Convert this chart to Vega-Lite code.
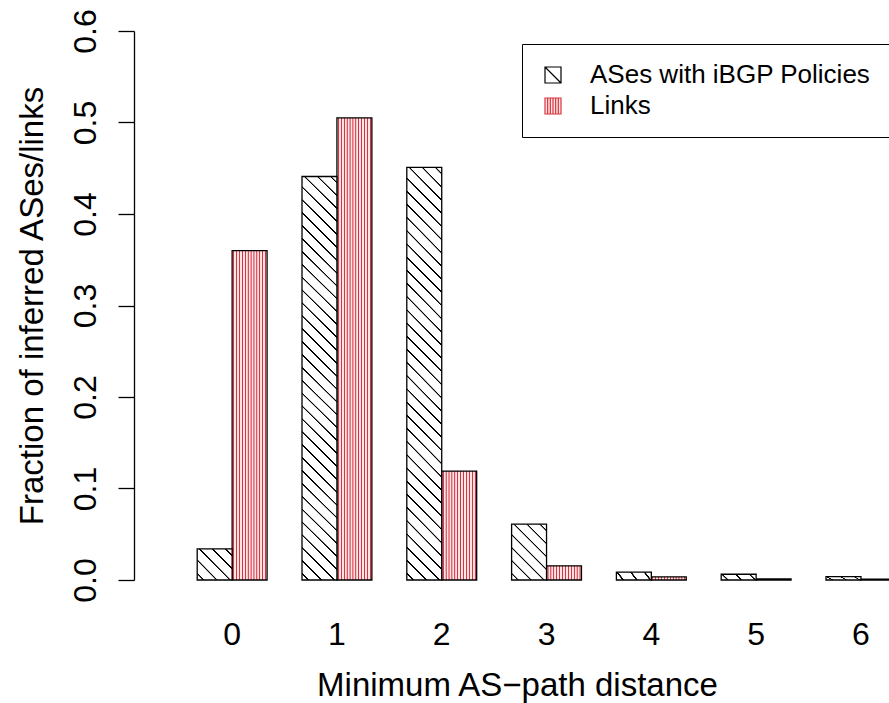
{
  "$schema": "https://vega.github.io/schema/vega-lite/v6.json",
  "width": 755,
  "height": 549,
  "autosize": {"type": "none"},
  "padding": {"left": 134, "top": 31, "right": 0, "bottom": 123},
  "background": "white",
  "config": {"view": {"stroke": null}, "font": "Liberation Sans"},
  "data": {
    "values": [
      {"distance": "0", "series": "ASes with iBGP Policies", "fraction": 0.034},
      {"distance": "1", "series": "ASes with iBGP Policies", "fraction": 0.441},
      {"distance": "2", "series": "ASes with iBGP Policies", "fraction": 0.451},
      {"distance": "3", "series": "ASes with iBGP Policies", "fraction": 0.061},
      {"distance": "4", "series": "ASes with iBGP Policies", "fraction": 0.0085},
      {"distance": "5", "series": "ASes with iBGP Policies", "fraction": 0.0063},
      {"distance": "6", "series": "ASes with iBGP Policies", "fraction": 0.0036},
      {"distance": "0", "series": "Links", "fraction": 0.36},
      {"distance": "1", "series": "Links", "fraction": 0.505},
      {"distance": "2", "series": "Links", "fraction": 0.119},
      {"distance": "3", "series": "Links", "fraction": 0.0155},
      {"distance": "4", "series": "Links", "fraction": 0.0035},
      {"distance": "5", "series": "Links", "fraction": 0.0012},
      {"distance": "6", "series": "Links", "fraction": 0.0008}
    ]
  },
  "encoding": {
    "x": {
      "field": "distance", "type": "ordinal",
      "scale": {"range": [63.2, 761.87], "paddingInner": 0.3333, "paddingOuter": 0},
      "axis": {
        "title": "Minimum AS\u2212path distance",
        "domain": false, "ticks": false, "tickSize": 0,
        "labelAngle": 0, "labelFontSize": 32, "labelColor": "black",
        "labelBaseline": "alphabetic", "labelPadding": 64,
        "titleFontSize": 33, "titleFontWeight": "normal", "titleColor": "black",
        "titleBaseline": "alphabetic", "titleAlign": "center", "titleY": 115, "titleX": 383
      }
    },
    "xOffset": {
      "field": "series", "type": "nominal",
      "scale": {"domain": ["ASes with iBGP Policies", "Links"], "paddingInner": 0, "paddingOuter": 0}
    },
    "y": {
      "field": "fraction", "type": "quantitative", "stack": null,
      "scale": {"domain": [0, 0.6], "nice": false},
      "axis": {
        "values": [0, 0.1, 0.2, 0.3, 0.4, 0.5, 0.6], "format": ".1f",
        "grid": false, "domainColor": "black", "domainWidth": 1.3,
        "tickColor": "black", "tickWidth": 1.3, "tickSize": 16,
        "labelAngle": -90, "labelAlign": "center", "labelBaseline": "alphabetic",
        "labelPadding": 23, "labelFontSize": 32, "labelColor": "black",
        "title": "Fraction of inferred ASes/links",
        "titleFontSize": 33, "titleFontWeight": "normal", "titleColor": "black",
        "titleAngle": -90, "titleAlign": "center", "titleBaseline": "alphabetic",
        "titleX": -92, "titleY": 274.5
      }
    }
  },
  "layer": [
    {
      "transform": [{"filter": {"field": "series", "equal": "Links"}}],
      "mark": {"type": "bar", "stroke": "black", "strokeWidth": 1.3,
        "fill": {"gradient": "linear", "x1": 0, "y1": 0, "x2": 1, "y2": 0, "stops": [
          {"offset": 0, "color": "#fbe4e6"},
          {"offset": 0.0208, "color": "#fbe4e6"}, {"offset": 0.0333, "color": "#d8343f"}, {"offset": 0.05, "color": "#d8343f"}, {"offset": 0.0625, "color": "#fbe4e6"},
          {"offset": 0.1042, "color": "#fbe4e6"}, {"offset": 0.1167, "color": "#d8343f"}, {"offset": 0.1333, "color": "#d8343f"}, {"offset": 0.1458, "color": "#fbe4e6"},
          {"offset": 0.1875, "color": "#fbe4e6"}, {"offset": 0.2, "color": "#d8343f"}, {"offset": 0.2167, "color": "#d8343f"}, {"offset": 0.2292, "color": "#fbe4e6"},
          {"offset": 0.2708, "color": "#fbe4e6"}, {"offset": 0.2833, "color": "#d8343f"}, {"offset": 0.3, "color": "#d8343f"}, {"offset": 0.3125, "color": "#fbe4e6"},
          {"offset": 0.3542, "color": "#fbe4e6"}, {"offset": 0.3667, "color": "#d8343f"}, {"offset": 0.3833, "color": "#d8343f"}, {"offset": 0.3958, "color": "#fbe4e6"},
          {"offset": 0.4375, "color": "#fbe4e6"}, {"offset": 0.45, "color": "#d8343f"}, {"offset": 0.4667, "color": "#d8343f"}, {"offset": 0.4792, "color": "#fbe4e6"},
          {"offset": 0.5208, "color": "#fbe4e6"}, {"offset": 0.5333, "color": "#d8343f"}, {"offset": 0.55, "color": "#d8343f"}, {"offset": 0.5625, "color": "#fbe4e6"},
          {"offset": 0.6042, "color": "#fbe4e6"}, {"offset": 0.6167, "color": "#d8343f"}, {"offset": 0.6333, "color": "#d8343f"}, {"offset": 0.6458, "color": "#fbe4e6"},
          {"offset": 0.6875, "color": "#fbe4e6"}, {"offset": 0.7, "color": "#d8343f"}, {"offset": 0.7167, "color": "#d8343f"}, {"offset": 0.7292, "color": "#fbe4e6"},
          {"offset": 0.7708, "color": "#fbe4e6"}, {"offset": 0.7833, "color": "#d8343f"}, {"offset": 0.8, "color": "#d8343f"}, {"offset": 0.8125, "color": "#fbe4e6"},
          {"offset": 0.8542, "color": "#fbe4e6"}, {"offset": 0.8667, "color": "#d8343f"}, {"offset": 0.8833, "color": "#d8343f"}, {"offset": 0.8958, "color": "#fbe4e6"},
          {"offset": 0.9375, "color": "#fbe4e6"}, {"offset": 0.95, "color": "#d8343f"}, {"offset": 0.9667, "color": "#d8343f"}, {"offset": 0.9792, "color": "#fbe4e6"},
          {"offset": 1, "color": "#fbe4e6"}]}
      }
    },
    {
      "transform": [{"filter": {"and": [{"field": "series", "equal": "ASes with iBGP Policies"}, {"field": "distance", "oneOf": ["1", "2"]}]}}],
      "mark": {"type": "bar", "stroke": "black", "strokeWidth": 1.3,
        "fill": {"gradient": "linear", "x1": 0, "y1": 1, "x2": 0.0923, "y2": -0.078, "stops": [
          {"offset": 0, "color": "white"},
          {"offset": 0.0122, "color": "white"}, {"offset": 0.0132, "color": "black"}, {"offset": 0.0162, "color": "black"}, {"offset": 0.0172, "color": "white"},
          {"offset": 0.0416, "color": "white"}, {"offset": 0.0426, "color": "black"}, {"offset": 0.0456, "color": "black"}, {"offset": 0.0466, "color": "white"},
          {"offset": 0.0710, "color": "white"}, {"offset": 0.0720, "color": "black"}, {"offset": 0.0750, "color": "black"}, {"offset": 0.0760, "color": "white"},
          {"offset": 0.1004, "color": "white"}, {"offset": 0.1014, "color": "black"}, {"offset": 0.1044, "color": "black"}, {"offset": 0.1054, "color": "white"},
          {"offset": 0.1298, "color": "white"}, {"offset": 0.1308, "color": "black"}, {"offset": 0.1338, "color": "black"}, {"offset": 0.1348, "color": "white"},
          {"offset": 0.1593, "color": "white"}, {"offset": 0.1603, "color": "black"}, {"offset": 0.1633, "color": "black"}, {"offset": 0.1643, "color": "white"},
          {"offset": 0.1887, "color": "white"}, {"offset": 0.1897, "color": "black"}, {"offset": 0.1927, "color": "black"}, {"offset": 0.1937, "color": "white"},
          {"offset": 0.2181, "color": "white"}, {"offset": 0.2191, "color": "black"}, {"offset": 0.2221, "color": "black"}, {"offset": 0.2231, "color": "white"},
          {"offset": 0.2475, "color": "white"}, {"offset": 0.2485, "color": "black"}, {"offset": 0.2515, "color": "black"}, {"offset": 0.2525, "color": "white"},
          {"offset": 0.2769, "color": "white"}, {"offset": 0.2779, "color": "black"}, {"offset": 0.2809, "color": "black"}, {"offset": 0.2819, "color": "white"},
          {"offset": 0.3063, "color": "white"}, {"offset": 0.3073, "color": "black"}, {"offset": 0.3103, "color": "black"}, {"offset": 0.3113, "color": "white"},
          {"offset": 0.3357, "color": "white"}, {"offset": 0.3367, "color": "black"}, {"offset": 0.3397, "color": "black"}, {"offset": 0.3407, "color": "white"},
          {"offset": 0.3651, "color": "white"}, {"offset": 0.3661, "color": "black"}, {"offset": 0.3691, "color": "black"}, {"offset": 0.3701, "color": "white"},
          {"offset": 0.3946, "color": "white"}, {"offset": 0.3956, "color": "black"}, {"offset": 0.3986, "color": "black"}, {"offset": 0.3996, "color": "white"},
          {"offset": 0.4240, "color": "white"}, {"offset": 0.4250, "color": "black"}, {"offset": 0.4280, "color": "black"}, {"offset": 0.4290, "color": "white"},
          {"offset": 0.4534, "color": "white"}, {"offset": 0.4544, "color": "black"}, {"offset": 0.4574, "color": "black"}, {"offset": 0.4584, "color": "white"},
          {"offset": 0.4828, "color": "white"}, {"offset": 0.4838, "color": "black"}, {"offset": 0.4868, "color": "black"}, {"offset": 0.4878, "color": "white"},
          {"offset": 0.5122, "color": "white"}, {"offset": 0.5132, "color": "black"}, {"offset": 0.5162, "color": "black"}, {"offset": 0.5172, "color": "white"},
          {"offset": 0.5416, "color": "white"}, {"offset": 0.5426, "color": "black"}, {"offset": 0.5456, "color": "black"}, {"offset": 0.5466, "color": "white"},
          {"offset": 0.5710, "color": "white"}, {"offset": 0.5720, "color": "black"}, {"offset": 0.5750, "color": "black"}, {"offset": 0.5760, "color": "white"},
          {"offset": 0.6004, "color": "white"}, {"offset": 0.6014, "color": "black"}, {"offset": 0.6044, "color": "black"}, {"offset": 0.6054, "color": "white"},
          {"offset": 0.6298, "color": "white"}, {"offset": 0.6308, "color": "black"}, {"offset": 0.6338, "color": "black"}, {"offset": 0.6348, "color": "white"},
          {"offset": 0.6593, "color": "white"}, {"offset": 0.6603, "color": "black"}, {"offset": 0.6633, "color": "black"}, {"offset": 0.6643, "color": "white"},
          {"offset": 0.6887, "color": "white"}, {"offset": 0.6897, "color": "black"}, {"offset": 0.6927, "color": "black"}, {"offset": 0.6937, "color": "white"},
          {"offset": 0.7181, "color": "white"}, {"offset": 0.7191, "color": "black"}, {"offset": 0.7221, "color": "black"}, {"offset": 0.7231, "color": "white"},
          {"offset": 0.7475, "color": "white"}, {"offset": 0.7485, "color": "black"}, {"offset": 0.7515, "color": "black"}, {"offset": 0.7525, "color": "white"},
          {"offset": 0.7769, "color": "white"}, {"offset": 0.7779, "color": "black"}, {"offset": 0.7809, "color": "black"}, {"offset": 0.7819, "color": "white"},
          {"offset": 0.8063, "color": "white"}, {"offset": 0.8073, "color": "black"}, {"offset": 0.8103, "color": "black"}, {"offset": 0.8113, "color": "white"},
          {"offset": 0.8357, "color": "white"}, {"offset": 0.8367, "color": "black"}, {"offset": 0.8397, "color": "black"}, {"offset": 0.8407, "color": "white"},
          {"offset": 0.8651, "color": "white"}, {"offset": 0.8661, "color": "black"}, {"offset": 0.8691, "color": "black"}, {"offset": 0.8701, "color": "white"},
          {"offset": 0.8946, "color": "white"}, {"offset": 0.8956, "color": "black"}, {"offset": 0.8986, "color": "black"}, {"offset": 0.8996, "color": "white"},
          {"offset": 0.9240, "color": "white"}, {"offset": 0.9250, "color": "black"}, {"offset": 0.9280, "color": "black"}, {"offset": 0.9290, "color": "white"},
          {"offset": 0.9534, "color": "white"}, {"offset": 0.9544, "color": "black"}, {"offset": 0.9574, "color": "black"}, {"offset": 0.9584, "color": "white"},
          {"offset": 0.9828, "color": "white"}, {"offset": 0.9838, "color": "black"}, {"offset": 0.9868, "color": "black"}, {"offset": 0.9878, "color": "white"},
          {"offset": 1, "color": "white"}]}
      }
    },
    {
      "transform": [{"filter": {"and": [{"field": "series", "equal": "ASes with iBGP Policies"}, {"field": "distance", "equal": "0"}]}}],
      "mark": {"type": "bar", "stroke": "black", "strokeWidth": 1.3,
        "fill": {"gradient": "linear", "x1": 0, "y1": 1, "x2": 1.0586, "y2": 0.0665, "stops": [
          {"offset": 0, "color": "white"},
          {"offset": 0.083, "color": "white"}, {"offset": 0.09, "color": "black"}, {"offset": 0.11, "color": "black"}, {"offset": 0.117, "color": "white"},
          {"offset": 0.283, "color": "white"}, {"offset": 0.29, "color": "black"}, {"offset": 0.31, "color": "black"}, {"offset": 0.317, "color": "white"},
          {"offset": 0.483, "color": "white"}, {"offset": 0.49, "color": "black"}, {"offset": 0.51, "color": "black"}, {"offset": 0.517, "color": "white"},
          {"offset": 0.683, "color": "white"}, {"offset": 0.69, "color": "black"}, {"offset": 0.71, "color": "black"}, {"offset": 0.717, "color": "white"},
          {"offset": 0.883, "color": "white"}, {"offset": 0.89, "color": "black"}, {"offset": 0.91, "color": "black"}, {"offset": 0.917, "color": "white"},
          {"offset": 1, "color": "white"}]}
      }
    },
    {
      "transform": [{"filter": {"and": [{"field": "series", "equal": "ASes with iBGP Policies"}, {"field": "distance", "equal": "3"}]}}],
      "mark": {"type": "bar", "stroke": "black", "strokeWidth": 1.3,
        "fill": {"gradient": "linear", "x1": 0, "y1": 1, "x2": 0.7313, "y2": -0.1682, "stops": [
          {"offset": 0, "color": "white"},
          {"offset": 0.0593, "color": "white"}, {"offset": 0.0643, "color": "black"}, {"offset": 0.0786, "color": "black"}, {"offset": 0.0836, "color": "white"},
          {"offset": 0.2022, "color": "white"}, {"offset": 0.2072, "color": "black"}, {"offset": 0.2215, "color": "black"}, {"offset": 0.2265, "color": "white"},
          {"offset": 0.3450, "color": "white"}, {"offset": 0.3500, "color": "black"}, {"offset": 0.3643, "color": "black"}, {"offset": 0.3693, "color": "white"},
          {"offset": 0.4879, "color": "white"}, {"offset": 0.4929, "color": "black"}, {"offset": 0.5072, "color": "black"}, {"offset": 0.5122, "color": "white"},
          {"offset": 0.6307, "color": "white"}, {"offset": 0.6357, "color": "black"}, {"offset": 0.6500, "color": "black"}, {"offset": 0.6550, "color": "white"},
          {"offset": 0.7736, "color": "white"}, {"offset": 0.7786, "color": "black"}, {"offset": 0.7929, "color": "black"}, {"offset": 0.7979, "color": "white"},
          {"offset": 0.9164, "color": "white"}, {"offset": 0.9214, "color": "black"}, {"offset": 0.9357, "color": "black"}, {"offset": 0.9407, "color": "white"},
          {"offset": 1, "color": "white"}]}
      }
    },
    {
      "transform": [{"filter": {"and": [{"field": "series", "equal": "ASes with iBGP Policies"}, {"field": "distance", "oneOf": ["4", "5", "6"]}]}}],
      "mark": {"type": "bar", "stroke": "black", "strokeWidth": 1.3,
        "fill": {"gradient": "linear", "x1": 0, "y1": 1, "x2": 1.1382, "y2": 0.8045, "stops": [
          {"offset": 0, "color": "white"},
          {"offset": 0.1383, "color": "white"}, {"offset": 0.15, "color": "black"}, {"offset": 0.1833, "color": "black"}, {"offset": 0.195, "color": "white"},
          {"offset": 0.4717, "color": "white"}, {"offset": 0.4833, "color": "black"}, {"offset": 0.5167, "color": "black"}, {"offset": 0.5283, "color": "white"},
          {"offset": 0.805, "color": "white"}, {"offset": 0.8167, "color": "black"}, {"offset": 0.85, "color": "black"}, {"offset": 0.8617, "color": "white"},
          {"offset": 1, "color": "white"}]}
      }
    },
    {
      "mark": {"type": "point", "opacity": 0, "filled": true, "strokeWidth": 1.2},
      "encoding": {
        "shape": {
          "field": "series", "type": "nominal",
          "scale": {
            "domain": ["ASes with iBGP Policies", "Links"],
            "range": [
              "M-1,-1H1V1H-1Z M-1,-1L1,1",
              "M-1,-1H1V1H-1Z M-0.667,-1V1 M-0.333,-1V1 M0,-1V1 M0.333,-1V1 M0.667,-1V1"
            ]
          },
          "legend": {
            "orient": "none", "legendX": 388, "legendY": 13, "title": null,
            "strokeColor": "black", "fillColor": "white", "padding": 18,
            "symbolSize": 256, "symbolStrokeWidth": 1.2, "symbolOpacity": 1,
            "labelFontSize": 26, "labelOffset": 24, "rowPadding": 5,
            "labelColor": "black", "labelLimit": 400
          }
        },
        "stroke": {
          "field": "series", "type": "nominal",
          "scale": {"domain": ["ASes with iBGP Policies", "Links"], "range": ["black", "#d8343f"]}
        },
        "fill": {
          "field": "series", "type": "nominal",
          "scale": {"domain": ["ASes with iBGP Policies", "Links"], "range": ["white", "#fbe4e6"]}
        }
      }
    }
  ]
}
